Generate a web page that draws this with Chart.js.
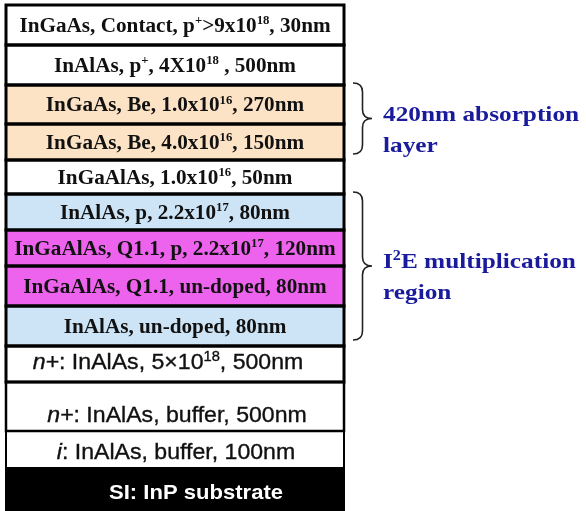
<!DOCTYPE html>
<html><head><meta charset="utf-8">
<script src="https://cdn.jsdelivr.net/npm/chart.js@4.4.0/dist/chart.umd.min.js"></script>
<style>html,body{margin:0;padding:0;background:#fff;}#wrap{width:586px;height:511px;}</style>
</head><body><div id="wrap"><canvas id="c" width="586" height="511"></canvas></div>
<script>
// Layers, listed from top to bottom. ^{..} = superscript, *..* = italic
const layerNames = [
  "InGaAs, Contact, p^{+}>9x10^{18}, 30nm",
  "InAlAs, p^{+}, 4X10^{18} , 500nm",
  "InGaAs, Be, 1.0x10^{16}, 270nm",
  "InGaAs, Be, 4.0x10^{16}, 150nm",
  "InGaAlAs, 1.0x10^{16}, 50nm",
  "InAlAs, p, 2.2x10^{17}, 80nm",
  "InGaAlAs, Q1.1, p, 2.2x10^{17}, 120nm",
  "InGaAlAs, Q1.1, un-doped, 80nm",
  "InAlAs, un-doped, 80nm",
  "*n+*: InAlAs, 5×10^{18}, 500nm",
  "*n+*: InAlAs, buffer, 500nm",
  "*i*: InAlAs, buffer, 100nm",
  "SI: InP substrate"
];
// drawn thickness of each layer in the schematic (not to scale)
const layerHeights = [40, 40, 39, 36, 34, 36, 36, 40, 40, 36, 49, 37, 43];
// bracketed regions
const regionNames = [["420nm absorption", "layer"], ["I^{2}E multiplication", "region"]];
const regionFirstLayer = [2, 5];
const regionLastLayer = [3, 8];

// ---- styles ----
const layerColors = ["#ffffff","#ffffff","#FDE3C6","#FDE3C6","#ffffff","#CDE4F6","#EE63EE","#EE63EE","#CDE4F6","#ffffff","#ffffff","#ffffff","#000000"];
const layerFontKind = ["serif","serif","serif","serif","serif","serif","serif","serif","serif","sans","sans","sans","sansbold"];
const layerTextDy = [0,0,0,0,0,0,0,0,0,-3,8,2,2];
const layerTextDx = [0,0,0,0,0,0,0,0,0,-7,2,1,21];
const layerBorder = [3,3,3,3,3,3,3,3,3,3,2.5,2,2];

function parseRuns(s){
  const runs=[]; let i=0, it=false, buf="";
  const push=(sup)=>{ if(buf){runs.push({t:buf,sup:sup,it:it}); buf="";} };
  while(i<s.length){
    if(s[i]==='^' && s[i+1]==='{'){ push(false); const j=s.indexOf('}',i); runs.push({t:s.slice(i+2,j),sup:true,it:it}); i=j+1; continue; }
    if(s[i]==='*'){ push(false); it=!it; i++; continue; }
    buf+=s[i]; i++;
  }
  push(false);
  return runs;
}
function fontFor(kind,size,it){
  if(kind==="serif") return "bold "+size+"px 'Liberation Serif', 'Times New Roman', serif";
  if(kind==="sansbold") return "bold "+size+"px 'Liberation Sans', Arial, sans-serif";
  return (it?"italic ":"")+size+"px 'Liberation Sans', Arial, sans-serif";
}
function drawRich(ctx, str, kind, size, cx, baseY, sx, color, align, strokeW){
  const runs=parseRuns(str);
  let w=0;
  runs.forEach(r=>{ ctx.font=fontFor(kind, r.sup?Math.round(size*0.62):size, r.it); r.w=ctx.measureText(r.t).width; w+=r.w; });
  ctx.save();
  ctx.translate(cx, baseY);
  ctx.scale(sx,1);
  let x = align==="left" ? 0 : -w/2;
  ctx.fillStyle=color; ctx.strokeStyle=color; ctx.lineWidth=strokeW||0;
  ctx.textBaseline="alphabetic"; ctx.textAlign="left";
  runs.forEach(r=>{
    ctx.font=fontFor(kind, r.sup?Math.round(size*0.62):size, r.it);
    const yy = r.sup? -size*0.38 : 0;
    ctx.fillText(r.t, x, yy);
    if(strokeW) ctx.strokeText(r.t, x, yy);
    x+=r.w;
  });
  ctx.restore();
}

const total = layerHeights.reduce((a,b)=>a+b,0);
const n = layerNames.length;
const datasets = [];
for(let k=n-1;k>=0;k--){
  datasets.push({label:layerNames[k], data:[layerHeights[k]], backgroundColor:layerColors[k],
    borderWidth:0, barPercentage:1, categoryPercentage:1, layerIndex:k});
}

const stackPlugin = {
  id:'stackDeco',
  afterDatasetsDraw(chart){
    const ctx=chart.ctx;
    const rects=[];
    chart.data.datasets.forEach((ds,di)=>{
      const el=chart.getDatasetMeta(di).data[0];
      const top=Math.min(el.y,el.base), bot=Math.max(el.y,el.base);
      rects[ds.layerIndex]={l:el.x-el.width/2, r:el.x+el.width/2, t:top, b:bot, cx:el.x};
    });
    // borders
    ctx.save();
    ctx.strokeStyle="#000";
    for(let k=n-1;k>=0;k--){
      const R=rects[k];
      ctx.lineWidth=layerBorder[k];
      ctx.strokeRect(R.l,R.t,R.r-R.l,R.b-R.t);
    }
    ctx.restore();
    // labels
    for(let k=0;k<n;k++){
      const R=rects[k];
      const kind=layerFontKind[k];
      const size = kind==="serif"?20:(kind==="sansbold"?21:22);
      const sx = kind==="serif"?1.06:1.05;
      const color = kind==="sansbold"?"#ffffff":"#111111";
      const mid=(R.t+R.b)/2+layerTextDy[k];
      const capH = kind==="serif"?size*0.662:size*0.716;
      drawRich(ctx, layerNames[k], kind, size, R.cx+layerTextDx[k], mid+capH/2, sx, color, "center", kind==="sans"?0.35:0);
    }
    // braces and region labels
    const ca=chart.chartArea;
    regionNames.forEach((lines,ri)=>{
      const top=rects[regionFirstLayer[ri]].t-2;
      const bot=rects[regionLastLayer[ri]].b-6;
      const mid=(top+bot)/2;
      const x0=ca.right+9, w=19, r=9;
      ctx.save();
      ctx.strokeStyle="#222"; ctx.lineWidth=1.6;
      ctx.beginPath();
      ctx.moveTo(x0,top);
      ctx.quadraticCurveTo(x0+w/2,top,x0+w/2,top+r);
      ctx.lineTo(x0+w/2,mid-r);
      ctx.quadraticCurveTo(x0+w/2,mid,x0+w,mid);
      ctx.quadraticCurveTo(x0+w/2,mid,x0+w/2,mid+r);
      ctx.lineTo(x0+w/2,bot-r);
      ctx.quadraticCurveTo(x0+w/2,bot,x0,bot);
      ctx.stroke();
      ctx.restore();
      lines.forEach((ln,li)=>{
        drawRich(ctx, ln, "serif", 22, ca.right+39, mid+2+li*31, 1.15, "#1A1A9C", "left");
      });
    });
  }
};

new Chart(document.getElementById('c'), {
  type:'bar',
  data:{labels:['stack'], datasets:datasets},
  options:{
    responsive:false, animation:false,
    layout:{padding:{top:5,left:6,right:242,bottom:0}},
    scales:{
      x:{display:false, stacked:true},
      y:{display:false, stacked:true, min:0, max:total}
    },
    plugins:{legend:{display:false}, tooltip:{enabled:false}}
  },
  plugins:[stackPlugin]
});
</script></body></html>
